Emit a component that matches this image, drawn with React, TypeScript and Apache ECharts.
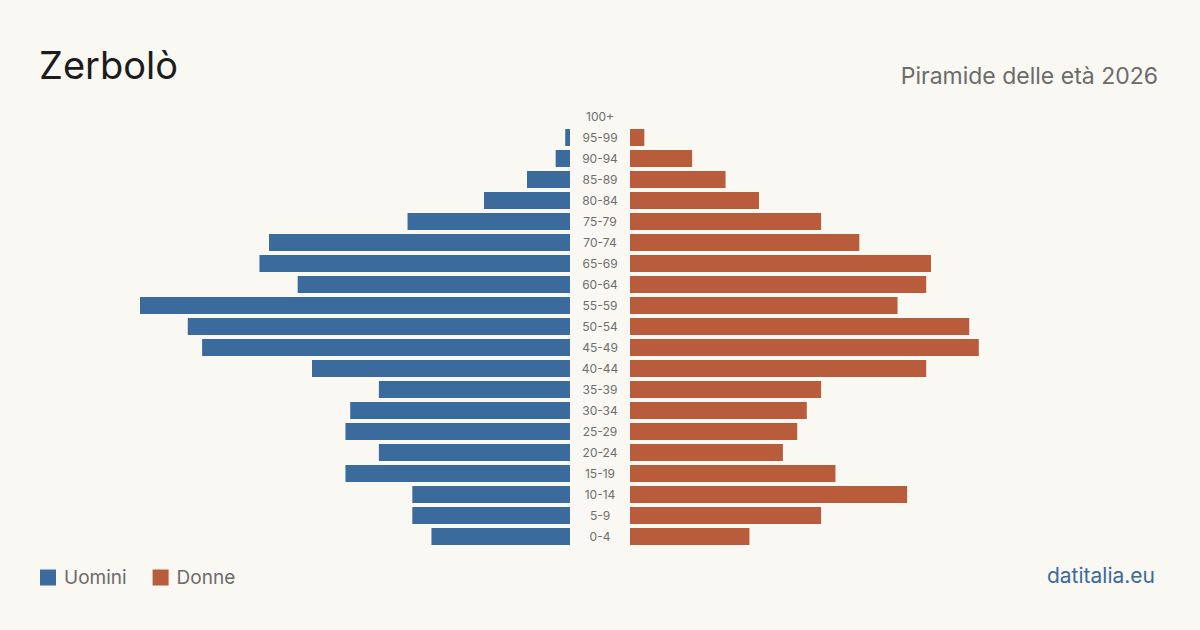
import React, { useEffect, useRef } from "react";
import * as echarts from "echarts";

const ageGroups = ["0-4","5-9","10-14","15-19","20-24","25-29","30-34","35-39","40-44","45-49","50-54","55-59","60-64","65-69","70-74","75-79","80-84","85-89","90-94","95-99","100+"];
const men =   [29,33,33,47,40,47,46,40,54,77,80,90,57,65,63,34,18,9,3,1,0];
const women = [25,40,58,43,32,35,37,40,62,73,71,56,62,63,48,40,27,20,13,3,0];

const BLUE = "#3b6a9c";
const ORANGE = "#b95c3c";
const FONT = "Inter, 'Noto Sans', sans-serif";

export default function App() {
  const ref = useRef<HTMLDivElement>(null);
  useEffect(() => {
    const chart = echarts.init(ref.current!, null, { renderer: "svg" });
    const top = 106;
    const height = 441;
    chart.setOption({
      animation: false,
      backgroundColor: "#f9f8f3",
      textStyle: { fontFamily: FONT },
      title: [
        { text: "Zerbolò", left: 39, top: 46, padding: 0, textStyle: { fontSize: 38, fontWeight: 400, color: "#1c1c1c", fontFamily: FONT } },
        { text: "Piramide delle età 2026", right: 42, top: 64, padding: 0, textStyle: { fontSize: 23, fontWeight: 400, color: "#6b6b6b", fontFamily: FONT } },
        { text: "datitalia.eu", right: 45, top: 565, padding: 0, textStyle: { fontSize: 21, fontWeight: 400, color: "#3b6a9c", fontFamily: FONT } },
      ],
      legend: {
        left: 40, top: 568, itemWidth: 16, itemHeight: 16, itemGap: 26, padding: 0,
        icon: "rect",
        textStyle: { fontSize: 19, color: "#6b6b6b", fontFamily: FONT, padding: [0, 0, 0, 3] },
        data: ["Uomini", "Donne"],
      },
      grid: [
        { left: 140, width: 430, top, height },
        { left: 630, width: 430, top, height },
      ],
      xAxis: [
        { gridIndex: 0, type: "value", min: 0, max: 90, inverse: true, show: false },
        { gridIndex: 1, type: "value", min: 0, max: 90, show: false },
      ],
      yAxis: [
        {
          gridIndex: 0, type: "category", data: ageGroups, position: "right",
          axisLine: { show: false }, axisTick: { show: false }, splitLine: { show: false },
          axisLabel: { margin: 30, align: "center", fontSize: 12, color: "#6e6e6e", fontFamily: FONT },
        },
        {
          gridIndex: 1, type: "category", data: ageGroups, show: false,
        },
      ],
      series: [
        { name: "Uomini", type: "bar", xAxisIndex: 0, yAxisIndex: 0, data: men, barWidth: 17, itemStyle: { color: BLUE } },
        { name: "Donne", type: "bar", xAxisIndex: 1, yAxisIndex: 1, data: women, barWidth: 17, itemStyle: { color: ORANGE } },
      ],
    });
    return () => chart.dispose();
  }, []);
  return <div ref={ref} style={{ width: 1200, height: 630, position: "absolute", left: 0, top: 0 }} />;
}
